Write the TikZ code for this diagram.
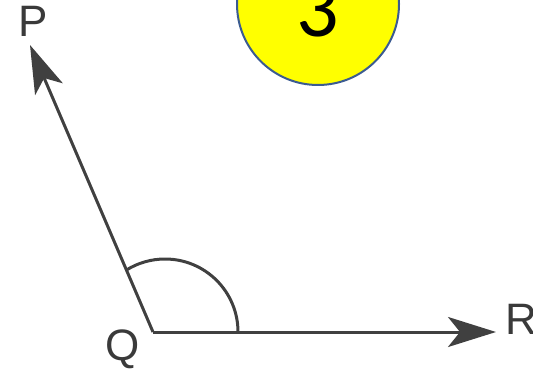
\documentclass[tikz,border=0pt]{standalone}
\usepackage{fontspec}
\setmainfont{Liberation Sans}
\newfontfamily\numfont{Carlito}
\usepackage{xcolor}
\definecolor{ink}{HTML}{404040}
\definecolor{lbl}{HTML}{3A3A3A}
\definecolor{rim}{HTML}{3B5B91}
\definecolor{sun}{HTML}{FFFF00}
\usepackage{tikz}
\usetikzlibrary{arrows.meta,positioning,calc}
\tikzset{
  >={Stealth[length=24pt,width=15pt,inset=6pt]},
  ray/.style={->,draw=ink,line width=1.5pt},
  arcln/.style={draw=ink,line width=1.5pt},
  ptlab/.style={font=\fontsize{22}{24}\selectfont,text=lbl,inner sep=0pt},
  badge/.style={circle,fill=sun,draw=rim,line width=1pt,minimum size=81pt,inner sep=0pt},
}
\begin{document}
\begin{tikzpicture}[x=0.5pt,y=0.5pt]
\useasboundingbox (0,0) rectangle (533,375);
% badge number
\node[badge] (num) at (318,371) {};
\node[font=\numfont\fontsize{42}{44}\selectfont,inner sep=0pt,anchor=base] (numtxt) at (318,338) {3};
% the angle
\coordinate (Q) at (153,43);
\coordinate (P) at (30,330);
\coordinate (R) at (496,43);
\coordinate (a) at (238,43);
\draw[ray] (Q) -- (P);
\draw[ray] (Q) -- (R);
\draw[arcln] (a) arc[start angle=0,end angle=122,radius=73];
% labels
\node[ptlab] (lp) at (33,354) {P};
\node[ptlab] (lq) at (123,26) {Q};
\node[ptlab] (lr) at (521,56) {R};
\end{tikzpicture}
\end{document}
